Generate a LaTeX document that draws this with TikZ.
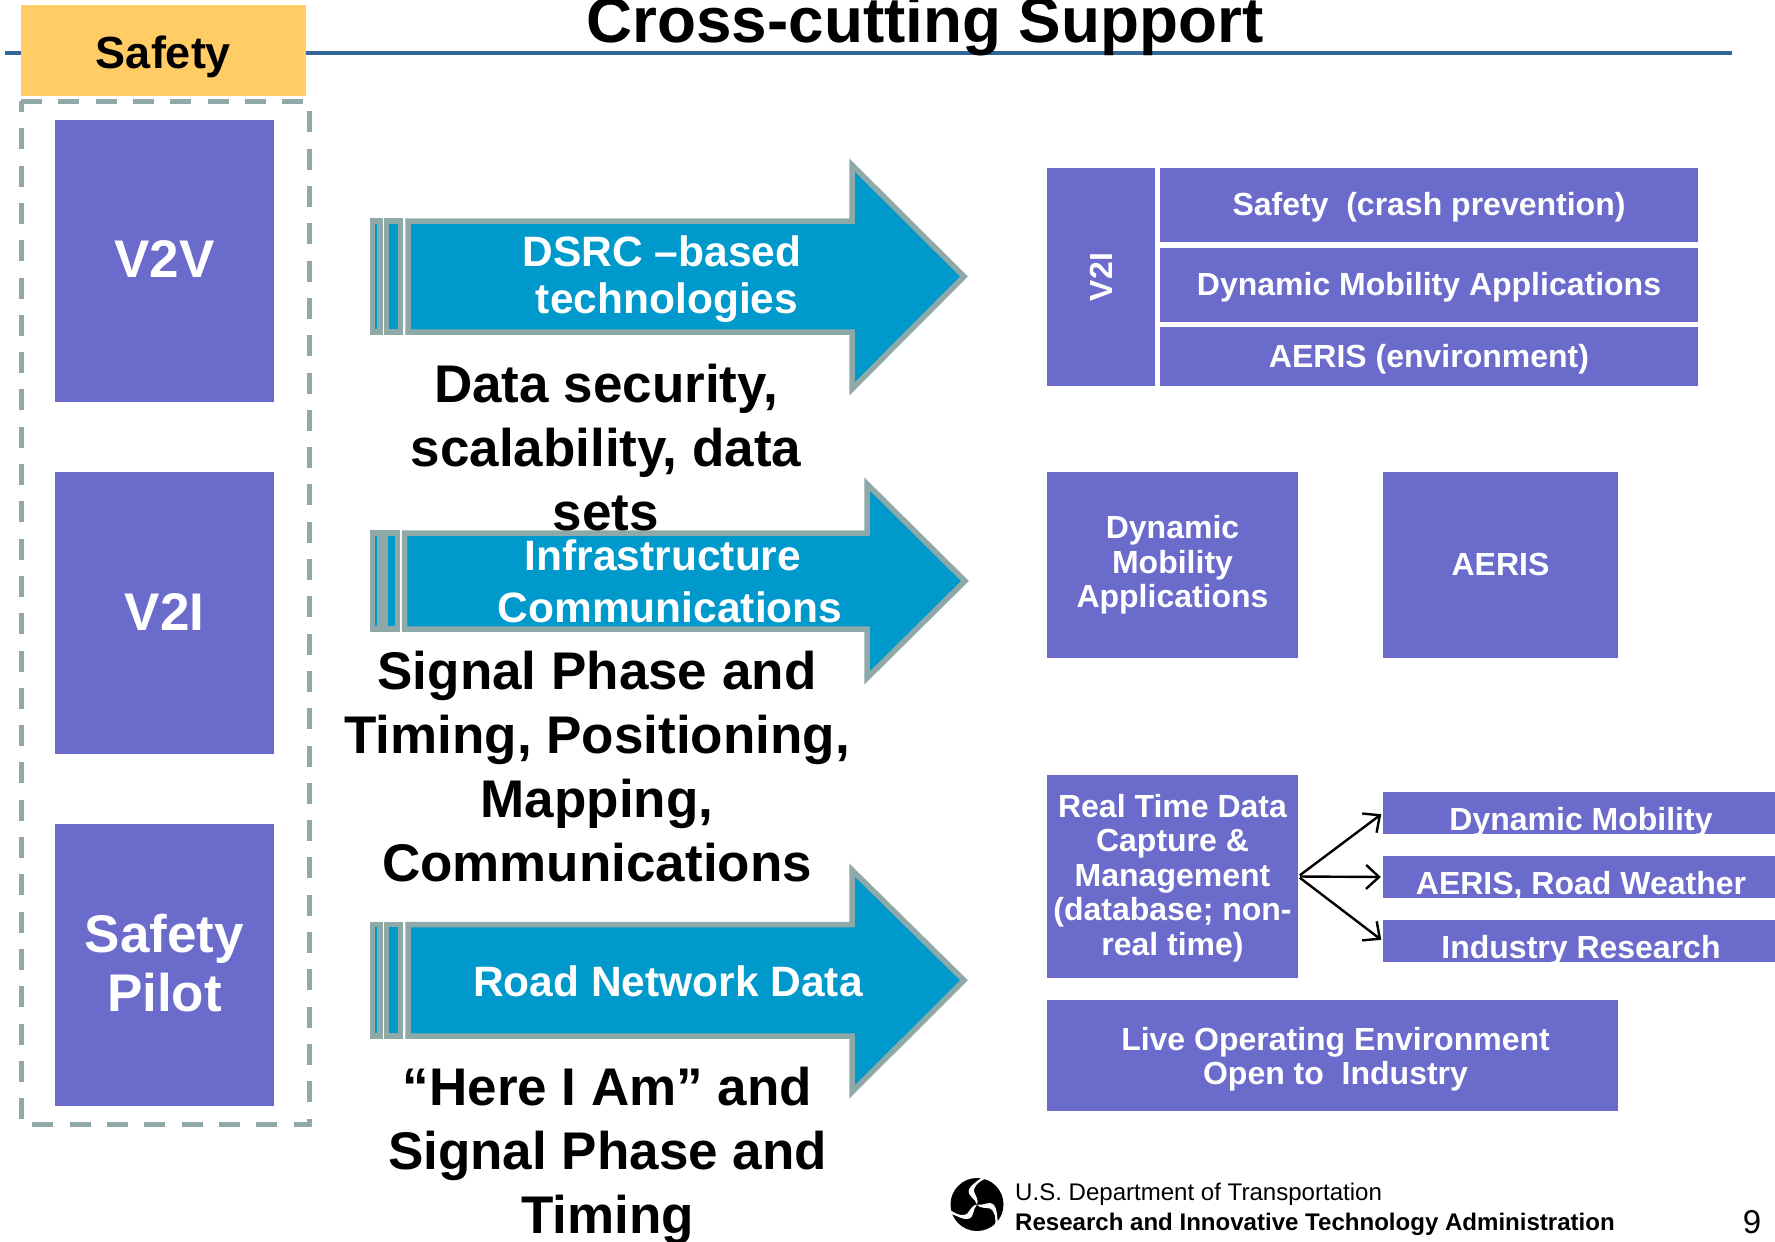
\documentclass[tikz,border=0pt]{standalone}
\usepackage{fontspec}
\setmainfont{Liberation Sans}
\usetikzlibrary{arrows.meta}

\definecolor{boxblue}{HTML}{6B6BCC}
\definecolor{arrowblue}{HTML}{0099CC}
\definecolor{greyline}{HTML}{8FA9A9}
\definecolor{safetyorange}{HTML}{FFCC66}
\definecolor{ruleblue}{HTML}{336699}

\begin{document}
\begin{tikzpicture}[
		x=1pt,y=-1pt,
		bluebox/.style={fill=boxblue,text=white,inner sep=0pt,align=center,font=\fontsize{32}{34.5}\selectfont\bfseries},
		pagebox/.style={bluebox,minimum width=219,minimum height=282,font=\fontsize{53}{59}\selectfont\bfseries},
		thinbox/.style={bluebox,minimum width=396,minimum height=42,text height=38,text depth=4},
		arrowtxt/.style={text=white,align=center,inner sep=0pt,font=\fontsize{42.5}{47.5}\selectfont\bfseries},
		bigtxt/.style={align=center,inner sep=0pt,font=\fontsize{53}{64}\selectfont\bfseries},
		conn/.style={draw,line width=2.4,shorten <=2,shorten >=2,-{Straight Barb[length=13,width=24,line width=2.4]}},
		stripe/.style={fill=arrowblue,draw=greyline,line width=5.5}
	]

	\useasboundingbox (0,0) rectangle (1775,1242);

	\draw[ruleblue,line width=4] (5,53) -- (1732,53);
	\node[inner sep=0pt,font=\fontsize{63.8}{64}\selectfont\bfseries] (title) at (925,26) {Cross-cutting Support};
	\node[fill=safetyorange,minimum width=285,minimum height=91,inner sep=0pt,text height=36,text depth=1,font=\fontsize{45}{45}\selectfont\bfseries] (safety) at (163.5,50.5) {Safety};
	\draw[greyline,line width=5,dash pattern=on 21 off 16.3] (21,101) -- (309,101) -- (309,1124) -- (21,1124) -- cycle;

	\node[pagebox] (vv) at (164.5,261) {\raisebox{4pt}{V2V}};
	\node[pagebox] (vi) at (164.5,613) {\raisebox{3pt}{V2I}};
	\node[pagebox] (pilot) at (164.5,965) {\raisebox{4pt}{Safety}\\\raisebox{4pt}{Pilot}};

	% the three big arrows
	\foreach \sa/\sb/\sc/\ba/\top/\bot/\hx/\ht/\hb/\tx in {
			380/386.7/400.5/408/221/332/852/165/389/964,
			379.5/385/397.5/404.5/533/629/867/484/678/965,
			380/386.7/400.5/408/924.5/1036/852/870/1092/964}{
		\draw[stripe] (372.7,\top) rectangle (\sa,\bot);
		\draw[stripe] (\sb,\top) rectangle (\sc,\bot);
		\draw[stripe] (\ba,\top) -- (\hx,\top) -- (\hx,\ht) -- (\tx,{(\top+\bot)/2}) -- (\hx,\hb) -- (\hx,\bot) -- (\ba,\bot) -- cycle;
	}

	\node[arrowtxt] (dsrc) at (662,279) {DSRC --based\\\hspace*{10pt}technologies};
	\node[arrowtxt,font=\fontsize{42.5}{52}\selectfont\bfseries] (infra) at (666,581) {Infrastructure\hspace*{6pt}\\\hspace*{8pt}Communications};
	\node[arrowtxt] (network) at (668,981) {Road Network Data};

	\node[bigtxt] (data) at (606,448) {Data security,\\scalability, data\\sets};
	\node[bigtxt] (spat) at (597,767) {Signal Phase and\\Timing, Positioning,\\Mapping,\\Communications};
	\node[bigtxt] (here) at (607.5,1155.5) {``Here I Am'' and\\Signal Phase and\\Timing};

	\node[bluebox,minimum width=108,minimum height=218] (vtoi) at (1101,277) {\rotatebox{90}{V2I}};
	\node[bluebox,minimum width=538,minimum height=74,text height=27,text depth=7] (crash) at (1429,205) {Safety\ \ (crash prevention)};
	\node[bluebox,minimum width=538,minimum height=74,text height=27,text depth=7] (dma) at (1429,285) {Dynamic Mobility Applications};
	\node[bluebox,minimum width=538,minimum height=59,text height=27,text depth=5.8] (env) at (1429,356.5) {AERIS (environment)};

	\node[bluebox,minimum width=251,minimum height=186] (dyn) at (1172.5,565) {Dynamic\\Mobility\\Applications};
	\node[bluebox,minimum width=235,minimum height=186] (aeris) at (1500.5,565) {\raisebox{1pt}{AERIS}};

	\node[bluebox,minimum width=251,minimum height=203] (rtd) at (1172.5,876.5) {\rule{0pt}{26pt}Real Time Data\\Capture \&\\Management\\(database; non-\\real time)};
	\node[thinbox] (mob) at (1581,813) {Dynamic Mobility};
	\node[thinbox] (wx) at (1581,877) {AERIS, Road Weather};
	\node[thinbox] (ind) at (1581,941) {Industry Research};
	\draw[conn] (rtd.east) -- (mob.west);
	\draw[conn] (rtd.east) -- (wx.west);
	\draw[conn] (rtd.east) -- (ind.west);

	\node[bluebox,minimum width=571,minimum height=111] (live) at (1332.5,1055) {\hspace*{6pt}\rule{0pt}{31.5pt}Live Operating Environment\\\hspace*{6pt}Open to\ \ Industry};

	% logo
	\fill (977,1204.5) circle (26.5);
	\foreach \ang in {0,120,240}{
		\fill[white,shift={(977,1204.5)},rotate=\ang] (0,0) .. controls (-2,-7) and (-10,-8) .. (-8,-15) .. controls (-6,-20) and (0,-23) .. (5,-27) -- (9,-26) .. controls (1,-23) and (-4,-17) .. (-3,-13) .. controls (-1,-8) and (2,-4) .. cycle;
	}

	\node[anchor=base west,inner sep=0pt,font=\fontsize{24.05}{24.05}\selectfont] (dot) at (1015,1200) {U.S. Department of Transportation};
	\node[anchor=base west,inner sep=0pt,font=\fontsize{24.05}{24.05}\selectfont\bfseries] (rita) at (1015,1230) {Research and Innovative Technology Administration};
	\node[anchor=base,inner sep=0pt,font=\fontsize{33}{33}\selectfont] (page) at (1752,1233) {9};

\end{tikzpicture}
\end{document}
